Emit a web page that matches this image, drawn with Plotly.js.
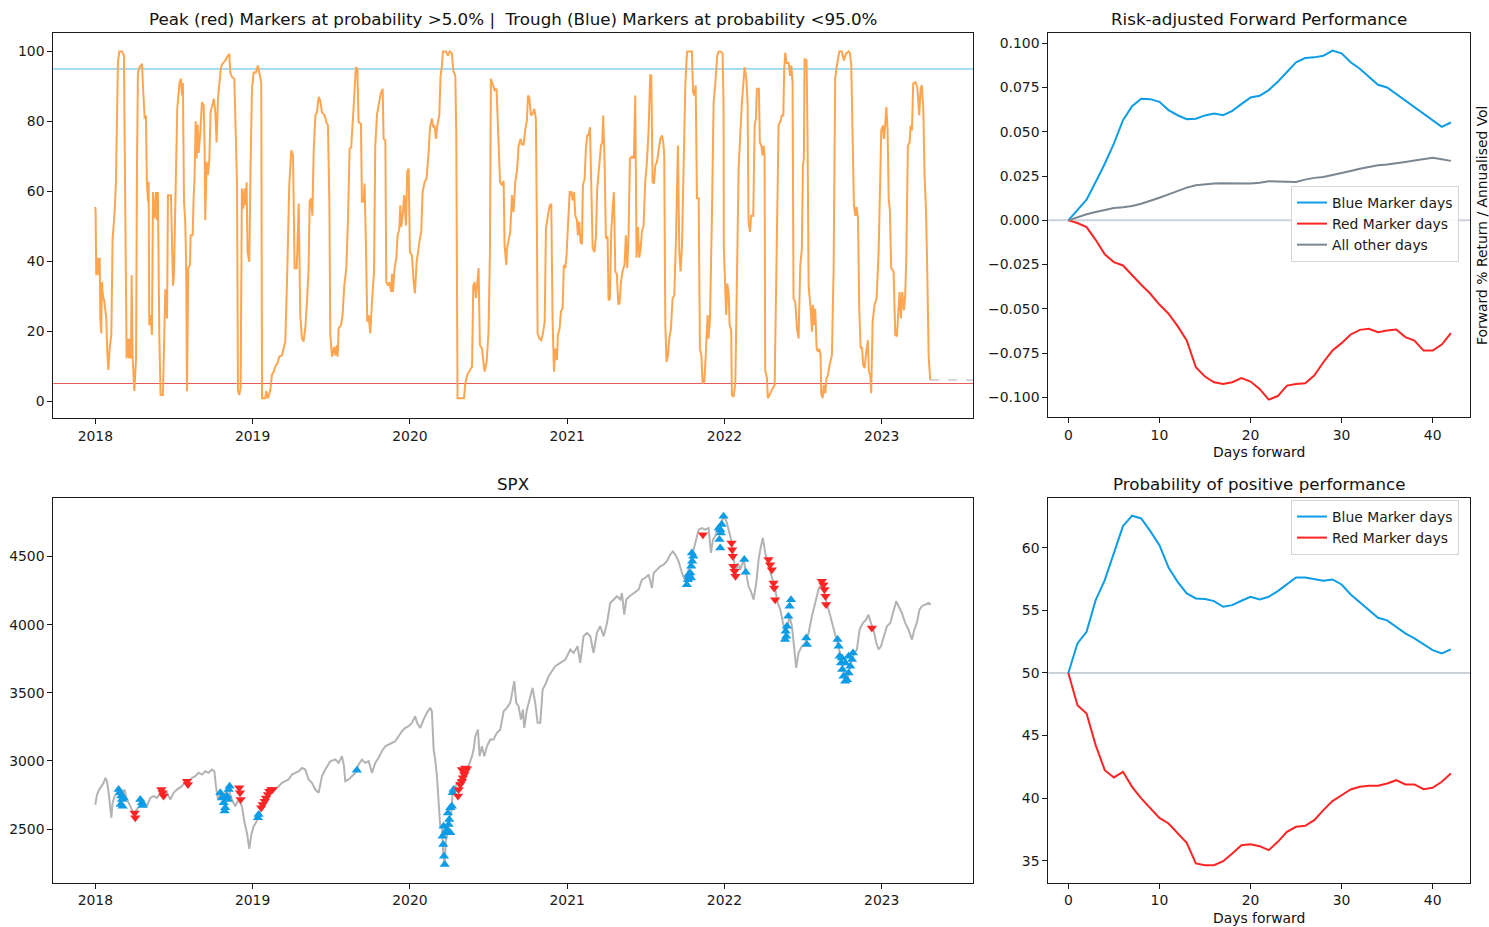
<!DOCTYPE html>
<html>
<head>
<meta charset="utf-8">
<script src="https://cdn.plot.ly/plotly-3.0.1.min.js"></script>
<style>html,body{margin:0;padding:0;background:#fff;}#chart{width:1489px;height:927px;}</style>
</head>
<body>
<div id="chart"></div>
<script>
// ---------- thresholds ----------
const upperThreshold = 95;
const lowerThreshold = 5;

// ---------- probability series (decimal years) ----------
const probX = [
2018.000,2018.002,2018.006,2018.015,2018.021,2018.028,2018.032,2018.038,2018.042,2018.049,
2018.057,2018.064,2018.070,2018.076,2018.083,2018.091,2018.102,2018.110,2018.123,2018.131,
2018.138,2018.144,2018.153,2018.170,2018.182,2018.186,2018.195,2018.199,2018.208,2018.214,
2018.220,2018.227,2018.231,2018.237,2018.248,2018.259,2018.265,2018.271,2018.282,2018.297,
2018.305,2018.314,2018.322,2018.328,2018.335,2018.339,2018.343,2018.352,2018.360,2018.367,
2018.377,2018.386,2018.392,2018.398,2018.407,2018.415,2018.430,2018.439,2018.445,2018.456,
2018.462,2018.481,2018.487,2018.494,2018.500,2018.509,2018.521,2018.536,2018.545,2018.551,
2018.557,2018.564,2018.572,2018.578,2018.583,2018.591,2018.602,2018.606,2018.619,2018.625,
2018.631,2018.638,2018.644,2018.651,2018.657,2018.668,2018.678,2018.689,2018.695,2018.699,
2018.708,2018.716,2018.725,2018.733,2018.746,2018.754,2018.763,2018.771,2018.780,2018.788,
2018.799,2018.809,2018.826,2018.843,2018.852,2018.858,2018.869,2018.884,2018.890,2018.901,
2018.907,2018.915,2018.924,2018.932,2018.941,2018.949,2018.956,2018.962,2018.968,2018.979,
2018.987,2018.996,2019.007,2019.021,2019.034,2019.047,2019.055,2019.060,2019.081,2019.087,
2019.098,2019.113,2019.123,2019.134,2019.144,2019.157,2019.170,2019.187,2019.199,2019.208,
2019.221,2019.233,2019.246,2019.257,2019.267,2019.280,2019.284,2019.293,2019.303,2019.314,
2019.324,2019.335,2019.346,2019.356,2019.363,2019.371,2019.380,2019.388,2019.399,2019.409,
2019.420,2019.430,2019.441,2019.458,2019.469,2019.479,2019.488,2019.494,2019.505,2019.519,
2019.526,2019.536,2019.541,2019.547,2019.562,2019.572,2019.583,2019.596,2019.606,2019.617,
2019.627,2019.636,2019.649,2019.657,2019.666,2019.674,2019.689,2019.695,2019.706,2019.712,
2019.721,2019.729,2019.738,2019.748,2019.759,2019.772,2019.780,2019.791,2019.805,2019.814,
2019.827,2019.833,2019.844,2019.850,2019.861,2019.869,2019.882,2019.886,2019.892,2019.903,
2019.914,2019.922,2019.933,2019.939,2019.945,2019.954,2019.964,2019.975,2019.983,2019.992,
2020.000,2020.013,2020.024,2020.032,2020.043,2020.056,2020.064,2020.072,2020.081,2020.094,
2020.106,2020.119,2020.128,2020.140,2020.149,2020.157,2020.166,2020.174,2020.187,2020.195,
2020.204,2020.210,2020.229,2020.242,2020.253,2020.267,2020.276,2020.289,2020.295,2020.303,
2020.344,2020.352,2020.365,2020.382,2020.395,2020.403,2020.412,2020.420,2020.428,2020.437,
2020.445,2020.458,2020.475,2020.488,2020.500,2020.509,2020.515,2020.526,2020.539,2020.551,
2020.560,2020.573,2020.585,2020.596,2020.602,2020.613,2020.617,2020.638,2020.649,2020.659,
2020.670,2020.681,2020.691,2020.704,2020.712,2020.723,2020.734,2020.744,2020.751,2020.759,
2020.770,2020.780,2020.791,2020.801,2020.808,2020.812,2020.823,2020.835,2020.844,2020.857,
2020.865,2020.878,2020.888,2020.899,2020.907,2020.916,2020.924,2020.935,2020.941,2020.952,
2020.960,2020.971,2020.979,2020.988,2020.996,2021.005,2021.016,2021.026,2021.035,2021.043,
2021.052,2021.062,2021.068,2021.077,2021.085,2021.094,2021.100,2021.111,2021.119,2021.128,
2021.136,2021.145,2021.153,2021.162,2021.174,2021.183,2021.191,2021.204,2021.215,2021.223,
2021.229,2021.238,2021.246,2021.257,2021.263,2021.272,2021.280,2021.289,2021.297,2021.306,
2021.316,2021.325,2021.333,2021.342,2021.352,2021.365,2021.373,2021.382,2021.390,2021.399,
2021.412,2021.424,2021.433,2021.441,2021.450,2021.458,2021.467,2021.475,2021.486,2021.496,
2021.507,2021.518,2021.528,2021.535,2021.543,2021.552,2021.560,2021.571,2021.581,2021.592,
2021.602,2021.611,2021.617,2021.624,2021.632,2021.641,2021.649,2021.660,2021.670,2021.681,
2021.692,2021.698,2021.704,2021.713,2021.721,2021.730,2021.742,2021.751,2021.757,2021.763,
2021.793,2021.800,2021.808,2021.817,2021.825,2021.836,2021.844,2021.853,2021.861,2021.872,
2021.882,2021.893,2021.899,2021.908,2021.920,2021.931,2021.941,2021.954,2021.963,2021.973,
2021.988,2021.994,2021.996,2022.005,2022.011,2022.018,2022.026,2022.033,2022.043,2022.047,
2022.058,2022.069,2022.079,2022.090,2022.100,2022.111,2022.128,2022.139,2022.147,2022.153,
2022.162,2022.170,2022.183,2022.192,2022.200,2022.206,2022.219,2022.225,2022.234,2022.242,
2022.249,2022.255,2022.259,2022.270,2022.276,2022.289,2022.306,2022.319,2022.327,2022.336,
2022.344,2022.357,2022.365,2022.374,2022.380,2022.387,2022.395,2022.408,2022.418,2022.425,
2022.433,2022.439,2022.450,2022.461,2022.471,2022.482,2022.492,2022.499,2022.505,2022.509,
2022.522,2022.528,2022.535,2022.548,2022.556,2022.562,2022.571,2022.577,2022.586,2022.594,
2022.603,2022.611,2022.615,2022.624,2022.632,2022.641,2022.649,2022.658,2022.668,2022.683,
2022.694,2022.704,2022.713,2022.730,2022.747,2022.759,2022.772,2022.789,2022.798,2022.806,
2022.815,2022.823,2022.832,2022.840,2022.849,2022.857,2022.866,2022.874,2022.882,2022.891,
2022.899,2022.912,2022.918,2022.927,2022.933,2022.942,2022.954,2022.967,2022.980,2022.988,
2022.997,2023.007,2023.014,2023.022,2023.029,2023.037,2023.044,2023.052,2023.060,2023.075,
2023.086,2023.096,2023.105,2023.113,2023.122,2023.130,2023.141,2023.149,2023.156,2023.166,
2023.177,2023.183,2023.192,2023.200,2023.213,2023.226,2023.238,2023.247,2023.255,2023.264,
2023.272,2023.281,2023.289,2023.298,2023.308
];
const probY = [
55.5,54,36,41,36,41,23.6,19.3,34,30,
28.6,24.8,23.6,14,8.9,15,19,46.5,54,62.4,
85.5,97,100,100,98.8,76,38,12.2,17.9,12.2,
17.9,12.2,36,13,2.9,12,66.5,94,95.5,96.5,
88.4,80.8,81.7,62.7,57,62.7,21.7,24.6,18.9,59.8,
52.2,59.8,51.7,59.8,18.9,1.7,1.7,19,32,23.6,
58.9,58.9,43.6,33,36,59,83.6,91.2,92.2,87.4,
91,57,51.3,38,2.8,38,39,47.4,47.4,58,
63.6,80,69.4,79,71,77,85.5,84.6,73,51.7,
68.4,64.6,68.8,82.6,84.6,86.5,82.6,74,86.5,90.3,
95.5,96.5,97.4,98.8,99.3,94,92.7,92.2,80.8,61.7,
2.8,1.7,3.6,60.8,55,60.8,56,62.6,42.6,39.8,
66.5,89.3,94,94,96,92.2,91,0.8,0.8,2.8,
0.8,3.2,7.5,8.4,9.8,10.8,12.7,13.1,15,17,
38,61.7,71.7,70.3,38,38,42.6,56.5,24.6,17.9,
17,20.8,28.4,38,57,58,53,71,81.7,82.6,
87,86,82.6,81.7,79.8,78.8,57,19,12.7,15.5,
13,16,12.7,20.8,21.7,24.6,33,38,51.3,72.2,
72.6,78.8,87.4,95.5,95,79.8,79.3,57,57,62.2,
43.6,22.7,24.6,19.3,28.4,37,73,82,85.5,87.9,
89.3,75,74.6,34,33,34,31.2,36.4,31.2,38,
41,47.4,49.3,56,49.8,53,58.9,50.2,65.5,66.5,
42.6,41.7,34,30.8,39.8,44.5,46.5,48.4,59.8,62.7,
63.6,71,78.3,80.8,78.3,78.8,75,78.8,81.7,93,
96,100,100,98.8,100,99.5,94.5,93,75.8,0.8,
0.8,5,7.5,8.9,9.8,33,34,29.5,34,38,
16,15,8.4,11.2,19.8,42.6,92.2,90.8,88.9,89.3,
75.8,62.7,61.7,63,44.5,38.9,43.6,48.4,58.9,54,
62.7,66,73,75,73.4,73.4,77.8,80.2,87.4,86.9,
81.7,82.1,83.6,80.8,47.4,19.3,17.9,17.4,18.9,22.7,
49.3,53,55.9,56.4,23.6,8.4,15,11.7,18.9,20.8,
25.5,26.5,38.9,38,41.7,50.2,59.8,59.8,57.4,59.8,
53,51.7,47.4,51.3,45.4,44.9,61.7,63.6,72.2,76,
76,78.3,64.6,43.6,42.6,47.4,60.8,66.5,73.1,74,
81.7,68.4,46.5,47,28.8,29.3,48.4,55,59.8,37.1,
36.2,27.6,28,34,37.1,39,47.4,38,47.4,69.4,
69.9,69.4,87.4,41,49.8,41,43.6,48.4,50.2,62.7,
68.4,77.8,93.4,93,62.7,62.2,67.4,68.4,72.2,75,
76,74,70.3,21.7,11.2,13,17.9,20.8,29.3,30.2,
46.5,58.9,73.1,42.6,37.1,44.5,76,90.3,96,100,
100,88.4,87.4,90.3,58,58,15,13.1,5,5.5,
14.1,24.6,17.9,23.6,52.2,85.5,90.3,98.8,100,100,
99.5,85.5,43.6,33,24.6,33.6,31.2,21.7,20.2,1.7,
1.2,5,38,66.5,75.8,85.5,95.5,92.2,85.5,51.3,
48.4,53,53,78.8,80.8,89.3,89.3,74,73.1,70.3,
73.1,70.3,8.9,6.5,0.8,2.2,3.6,4.6,28,58.9,
78.8,80.2,81.7,81.7,95,99.7,96.7,96.7,93,96,
91.2,29.3,28.4,20.8,17.9,38.9,43.6,67.6,69.4,97.9,
97.4,76.7,33,26.4,19.8,27.5,21.7,26.4,15,14.1,
15,13.1,2.2,0.8,4.6,2.2,6.5,7.5,10.3,13.1,
38,92.2,95.5,100,100,97.4,99.3,100,99.5,96,
72.2,56,53,55.5,52.2,26.4,15,15.5,10.3,9.4,
13.1,17.4,8.4,7.5,2.2,22.7,27.5,29.3,42.6,61.7,
77.4,78.8,75,79.3,84.1,77.8,58,54.3,38,37.1,
18.9,18.5,26.4,31.2,23.6,31.2,26,30.2,41,73.1,
74,78.8,77.4,90.8,91.2,89.8,81.7,89.3,90.3,83.6,
64.6,55,38,13.1,6
];
const probTailX = [2023.308, 2023.582];
const probTailY = [6, 6];

// ---------- SPX series ----------
const spxX = [
2018.000,2018.011,2018.025,2018.042,2018.053,2018.064,2018.074,2018.085,2018.095,2018.102,
2018.110,2018.123,2018.138,2018.148,2018.170,2018.186,2018.201,2018.223,2018.244,2018.265,
2018.286,2018.307,2018.328,2018.350,2018.371,2018.392,2018.413,2018.434,2018.456,2018.477,
2018.498,2018.519,2018.551,2018.572,2018.593,2018.615,2018.636,2018.657,2018.678,2018.699,
2018.720,2018.742,2018.757,2018.767,2018.780,2018.795,2018.809,2018.826,2018.848,2018.869,
2018.890,2018.911,2018.932,2018.949,2018.964,2018.979,2018.992,2019.007,2019.021,2019.038,
2019.060,2019.081,2019.102,2019.123,2019.144,2019.166,2019.187,2019.208,2019.229,2019.250,
2019.271,2019.293,2019.314,2019.335,2019.356,2019.377,2019.399,2019.420,2019.441,2019.462,
2019.494,2019.526,2019.547,2019.568,2019.581,2019.589,2019.611,2019.632,2019.653,2019.674,
2019.695,2019.716,2019.738,2019.759,2019.780,2019.801,2019.822,2019.844,2019.865,2019.886,
2019.907,2019.928,2019.950,2019.971,2019.992,2020.013,2020.034,2020.045,2020.066,2020.087,
2020.108,2020.130,2020.140,2020.151,2020.161,2020.172,2020.183,2020.193,2020.204,2020.212,
2020.221,2020.229,2020.242,2020.250,2020.263,2020.272,2020.284,2020.299,2020.314,2020.331,
2020.352,2020.373,2020.395,2020.405,2020.416,2020.433,2020.443,2020.458,2020.473,2020.490,
2020.511,2020.532,2020.553,2020.575,2020.596,2020.617,2020.638,2020.664,2020.676,2020.691,
2020.706,2020.719,2020.727,2020.744,2020.761,2020.780,2020.797,2020.812,2020.829,2020.844,
2020.861,2020.882,2020.903,2020.924,2020.956,2020.988,2021.020,2021.041,2021.066,2021.083,
2021.104,2021.126,2021.147,2021.168,2021.189,2021.210,2021.232,2021.253,2021.274,2021.295,
2021.316,2021.338,2021.348,2021.363,2021.376,2021.397,2021.422,2021.454,2021.475,2021.496,
2021.518,2021.539,2021.550,2021.571,2021.592,2021.613,2021.634,2021.655,2021.672,2021.687,
2021.708,2021.730,2021.751,2021.772,2021.793,2021.814,2021.836,2021.857,2021.878,2021.899,
2021.914,2021.927,2021.941,2021.963,2021.984,2021.999,2022.016,2022.033,2022.047,2022.058,
2022.071,2022.084,2022.100,2022.122,2022.139,2022.153,2022.168,2022.185,2022.202,2022.217,
2022.232,2022.244,2022.259,2022.281,2022.302,2022.323,2022.338,2022.355,2022.372,2022.387,
2022.397,2022.414,2022.429,2022.444,2022.456,2022.471,2022.492,2022.514,2022.535,2022.556,
2022.577,2022.598,2022.613,2022.634,2022.651,2022.673,2022.694,2022.711,2022.726,2022.740,
2022.757,2022.779,2022.796,2022.810,2022.825,2022.842,2022.859,2022.880,2022.901,2022.916,
2022.931,2022.948,2022.965,2022.980,2022.995,2023.012,2023.033,2023.054,2023.075,2023.092,
2023.107,2023.128,2023.149,2023.170,2023.192,2023.207,2023.223,2023.240,2023.255,2023.277,
2023.298,2023.312
];
const spxY = [
2680,2754,2790,2815,2839,2876,2852,2766,2668,2583,
2693,2742,2766,2790,2742,2790,2717,2668,2607,2644,
2680,2668,2668,2729,2742,2729,2766,2790,2766,2717,
2766,2790,2815,2852,2852,2876,2888,2913,2900,2925,
2913,2937,2925,2815,2717,2766,2729,2766,2790,2717,
2668,2717,2668,2546,2473,2355,2460,2521,2546,2595,
2656,2717,2766,2790,2790,2815,2839,2852,2864,2900,
2913,2925,2949,2937,2864,2839,2790,2766,2888,2937,
2998,3011,2986,3035,2962,2852,2864,2888,2913,2974,
3011,2986,2998,2913,2986,3023,3072,3108,3121,3133,
3145,3182,3219,3243,3255,3280,3328,3280,3243,3304,
3353,3390,3365,3084,3011,2888,2644,2521,2521,2326,
2240,2424,2473,2570,2619,2766,2790,2839,2864,2888,
2949,2962,3035,3084,3182,3231,3035,3108,3035,3108,
3157,3157,3206,3231,3365,3390,3426,3585,3426,3402,
3304,3377,3243,3377,3451,3536,3426,3280,3280,3524,
3561,3622,3659,3695,3720,3744,3818,3793,3842,3720,
3915,3940,3915,3793,3940,3989,3915,4013,4160,4185,
4209,4185,4233,4074,4185,4209,4233,4258,4331,4343,
4368,4270,4380,4405,4429,4441,4466,4515,4539,4515,
4466,4380,4319,4405,4503,4600,4698,4710,4698,4710,
4527,4625,4649,4723,4771,4796,4747,4674,4600,4503,
4356,4454,4405,4478,4380,4282,4246,4185,4307,4478,
4576,4637,4527,4429,4356,4258,4160,4111,4013,3940,
3964,4062,3989,3793,3683,3793,3842,3866,3940,4062,
4160,4258,4294,4233,4160,4062,3964,3891,3842,3768,
3671,3597,3671,3744,3793,3818,3964,4013,4038,4074,
4013,3964,3866,3818,3842,3915,3989,4013,4111,4172,
4136,4087,4013,3964,3891,3964,4013,4111,4136,4148,
4160,4148
];

// ---------- marker days ----------
const blueMarkX = [
2018.148,2018.157,2018.161,2018.165,2018.170,2018.174,2018.180,2018.286,2018.297,2018.301,
2018.795,2018.805,2018.816,2018.822,2018.826,2018.837,2018.843,2018.848,2018.854,2019.034,
2019.038,2019.663,2020.208,2020.212,2020.214,2020.217,2020.221,2020.225,2020.236,2020.242,
2020.246,2020.250,2020.257,2020.257,2020.267,2020.272,2020.278,2021.761,2021.768,2021.772,
2021.776,2021.783,2021.787,2021.789,2021.793,2021.795,2021.802,2021.964,2021.968,2021.973,
2021.973,2021.977,2021.983,2021.994,2022.126,2022.135,2022.385,2022.389,2022.393,2022.397,
2022.406,2022.414,2022.423,2022.520,2022.524,2022.719,2022.726,2022.732,2022.741,2022.747,
2022.749,2022.757,2022.768,2022.768,2022.779,2022.789,2022.789,2022.800,2022.811,2022.817
];
const blueMarkY = [
2790,2766,2680,2742,2717,2668,2729,2717,2693,2673,
2766,2729,2693,2632,2656,2742,2717,2790,2815,2583,
2607,2932,2448,2387,2521,2301,2240,2473,2497,2619,
2534,2570,2473,2656,2668,2766,2790,4294,4331,4368,
4355,4380,4343,4429,4527,4466,4502,4710,4625,4563,
4698,4673,4735,4796,4478,4385,3891,3952,3915,3989,
4062,4135,4184,3903,3854,3891,3842,3769,3720,3756,
3671,3622,3585,3720,3597,3646,3769,3695,3744,3793
];
const redMarkX = [
2018.250,2018.254,2018.420,2018.428,2018.434,2018.583,2018.589,2018.915,2018.920,2018.924,
2019.055,2019.064,2019.077,2019.085,2019.098,2019.106,2019.119,2019.127,2020.306,2020.310,
2020.320,2020.331,2020.331,2020.337,2020.346,2020.352,2020.352,2020.363,2021.863,2022.045,
2022.049,2022.053,2022.057,2022.064,2022.070,2022.280,2022.290,2022.301,2022.312,2022.316,
2022.322,2022.619,2022.629,2022.636,2022.642,2022.646,2022.937
];
const redMarkY = [
2619,2583,2790,2766,2742,2852,2827,2803,2766,2717,
2656,2680,2705,2729,2754,2778,2790,2790,2742,2790,
2827,2852,2937,2876,2900,2925,2949,2942,4661,4600,
4551,4502,4429,4392,4355,4478,4441,4404,4307,4270,
4184,4319,4294,4258,4209,4148,3976
];

// ---------- forward performance ----------
const daysForward = [0,1,2,3,4,5,6,7,8,9,10,11,12,13,14,15,16,17,18,19,20,21,22,23,24,25,26,27,28,29,30,31,32,33,34,35,36,37,38,39,40,41,42];
const riskAdjBlue = [0,0.0057,0.0117,0.0217,0.032,0.0434,0.0566,0.0645,0.0687,0.0685,0.067,0.0623,0.0594,0.0572,0.0574,0.0593,0.0604,0.0594,0.0619,0.0657,0.0694,0.0704,0.0736,0.0783,0.084,0.0893,0.0917,0.0921,0.093,0.0959,0.0944,0.0893,0.0857,0.0811,0.0766,0.0751,0.0713,0.0676,0.0642,0.0604,0.0562,0.0528,0.0553];
const riskAdjRed = [0,-0.0015,-0.0038,-0.011,-0.0192,-0.0236,-0.0255,-0.0311,-0.0364,-0.0415,-0.0476,-0.0528,-0.0598,-0.0679,-0.083,-0.0883,-0.0915,-0.0925,-0.0915,-0.0891,-0.0911,-0.0953,-0.1013,-0.0993,-0.0934,-0.0925,-0.0921,-0.0877,-0.0802,-0.0736,-0.0694,-0.0645,-0.0619,-0.0613,-0.0632,-0.0623,-0.0617,-0.066,-0.0679,-0.0736,-0.0736,-0.0702,-0.0638];
const riskAdjOther = [0,0.0019,0.0034,0.0047,0.006,0.007,0.0074,0.0081,0.0094,0.0109,0.0128,0.0147,0.0166,0.0185,0.0198,0.0204,0.0208,0.0209,0.0209,0.0208,0.0208,0.0213,0.0221,0.0219,0.0217,0.0217,0.023,0.024,0.0245,0.0255,0.0268,0.0279,0.0291,0.0302,0.0311,0.0315,0.0321,0.033,0.0338,0.0347,0.0353,0.0345,0.0336];
const probPosBlue = [50,52.36,53.29,55.82,57.42,59.55,61.73,62.56,62.34,61.33,60.21,58.43,57.28,56.35,55.95,55.9,55.74,55.29,55.42,55.77,56.09,55.87,56.09,56.54,57.07,57.63,57.63,57.47,57.36,57.47,57.07,56.27,55.63,54.97,54.41,54.2,53.69,53.16,52.76,52.31,51.83,51.56,51.88];
const probPosRed = [50,47.42,46.77,44.24,42.24,41.66,42.11,40.91,39.98,39.18,38.43,37.98,37.18,36.44,34.79,34.65,34.65,34.97,35.59,36.25,36.33,36.17,35.85,36.52,37.32,37.72,37.8,38.25,39.05,39.77,40.24,40.7,40.91,40.99,40.99,41.18,41.44,41.1,41.1,40.72,40.83,41.31,41.98];

// ---------- tick labels ----------
const yearTicks = [2018,2019,2020,2021,2022,2023];
const probTicks = [0,20,40,60,80,100];
const spxTicks = [2500,3000,3500,4000,4500];
const riskTicks = [-0.1,-0.075,-0.05,-0.025,0,0.025,0.05,0.075,0.1];
const posTicks = [35,40,45,50,55,60];
const dayTicks = [0,10,20,30,40];

// ---------- styling ----------
const FONT = 'DejaVu Sans, Liberation Sans, sans-serif';
const FS = 13.9;
const FT = 16.7;
const C_BLUE = '#0d9ce6';
const C_RED = '#ff2424';
const C_OTHER = '#7b8693';
const C_ORANGE = '#ffa54f';
const C_SPX = '#b3b3b3';
const C_REF = 'rgba(176,188,200,0.65)';

function ax(extra) {
  return Object.assign({
    showline: true, mirror: true, linecolor: '#1a1a1a', linewidth: 1,
    ticks: 'outside', ticklen: 5, tickwidth: 1, tickcolor: '#1a1a1a',
    showgrid: false, zeroline: false, fixedrange: true,
    tickfont: {family: FONT, size: FS, color: '#1a1a1a'}
  }, extra);
}

const L = {x0: 53.3/1489, x1: 973.3/1489};
const R = {x0: 1048.3/1489, x1: 1470/1489};
const TOP = {y0: 1-418.3/927, y1: 1-33.3/927};
const BOT = {y0: 1-882.5/927, y1: 1-498.3/927};

const traces = [
  {x: probX, y: probY, xaxis: 'x', yaxis: 'y', type: 'scatter', mode: 'lines',
   line: {color: C_ORANGE, width: 2}, showlegend: false, hoverinfo: 'skip'},
  {x: probTailX, y: probTailY, xaxis: 'x', yaxis: 'y', type: 'scatter', mode: 'lines',
   line: {color: '#9a9a9a', width: 0.8, dash: 'dash'}, showlegend: false, hoverinfo: 'skip'},

  {x: daysForward, y: riskAdjBlue, xaxis: 'x2', yaxis: 'y2', type: 'scatter', mode: 'lines',
   name: 'Blue Marker days', line: {color: C_BLUE, width: 2}, legend: 'legend'},
  {x: daysForward, y: riskAdjRed, xaxis: 'x2', yaxis: 'y2', type: 'scatter', mode: 'lines',
   name: 'Red Marker days', line: {color: C_RED, width: 2}, legend: 'legend'},
  {x: daysForward, y: riskAdjOther, xaxis: 'x2', yaxis: 'y2', type: 'scatter', mode: 'lines',
   name: 'All other days', line: {color: C_OTHER, width: 2}, legend: 'legend'},

  {x: spxX, y: spxY, xaxis: 'x3', yaxis: 'y3', type: 'scatter', mode: 'lines',
   line: {color: C_SPX, width: 2}, showlegend: false, hoverinfo: 'skip'},
  {x: blueMarkX, y: blueMarkY, xaxis: 'x3', yaxis: 'y3', type: 'scatter', mode: 'markers',
   marker: {symbol: 'triangle-up', size: 9, color: C_BLUE, line: {width: 0}}, showlegend: false},
  {x: redMarkX, y: redMarkY, xaxis: 'x3', yaxis: 'y3', type: 'scatter', mode: 'markers',
   marker: {symbol: 'triangle-down', size: 9, color: C_RED, line: {width: 0}}, showlegend: false},

  {x: daysForward, y: probPosBlue, xaxis: 'x4', yaxis: 'y4', type: 'scatter', mode: 'lines',
   name: 'Blue Marker days', line: {color: C_BLUE, width: 2}, legend: 'legend2'},
  {x: daysForward, y: probPosRed, xaxis: 'x4', yaxis: 'y4', type: 'scatter', mode: 'lines',
   name: 'Red Marker days', line: {color: C_RED, width: 2}, legend: 'legend2'}
];

const legendStyle = {
  xanchor: 'left', yanchor: 'top',
  bgcolor: 'rgba(255,255,255,0.85)', bordercolor: '#d4d4d4', borderwidth: 1,
  font: {family: FONT, size: FS, color: '#1a1a1a'}, itemwidth: 30, tracegroupgap: 0
};

const titleText = 'Peak (red) Markers at probability >' + lowerThreshold.toFixed(1) +
  '% |  Trough (Blue) Markers at probability <' + upperThreshold.toFixed(1) + '%';

function ann(text, px, py, size, extra) {
  return Object.assign({text: text, xref: 'paper', yref: 'paper', x: px/1489, y: 1 - py/927,
    xanchor: 'center', yanchor: 'middle', showarrow: false,
    font: {family: FONT, size: size, color: '#111'}}, extra || {});
}

const layout = {
  width: 1489, height: 927,
  margin: {l: 0, r: 0, t: 0, b: 0},
  paper_bgcolor: '#ffffff', plot_bgcolor: '#ffffff',
  font: {family: FONT, size: FS, color: '#1a1a1a'},
  showlegend: true,
  legend: Object.assign({x: 1291/1489, y: 1 - 186/927}, legendStyle),
  legend2: Object.assign({x: 1291/1489, y: 1 - 500/927}, legendStyle),
  xaxis: ax({domain: [L.x0, L.x1], anchor: 'y', range: [2017.733, 2023.582], tickvals: yearTicks, ticktext: yearTicks.map(String)}),
  yaxis: ax({domain: [TOP.y0, TOP.y1], anchor: 'x', range: [-4.95, 105.2], tickvals: probTicks}),
  xaxis2: ax({domain: [R.x0, R.x1], anchor: 'y2', range: [-2.2, 44.1], tickvals: dayTicks}),
  yaxis2: ax({domain: [TOP.y0 + 0.0011, TOP.y1], anchor: 'x2', range: [-0.1113, 0.1057], tickvals: riskTicks, tickformat: '.3f'}),
  xaxis3: ax({domain: [L.x0, L.x1], anchor: 'y3', range: [2017.733, 2023.582], tickvals: yearTicks, ticktext: yearTicks.map(String)}),
  yaxis3: ax({domain: [BOT.y0, BOT.y1], anchor: 'x3', range: [2108, 4928], tickvals: spxTicks}),
  xaxis4: ax({domain: [R.x0, R.x1], anchor: 'y4', range: [-2.2, 44.1], tickvals: dayTicks}),
  yaxis4: ax({domain: [BOT.y0, BOT.y1], anchor: 'x4', range: [33.27, 63.95], tickvals: posTicks}),
  shapes: [
    {type: 'line', xref: 'x domain', yref: 'y', x0: 0, x1: 1, y0: upperThreshold, y1: upperThreshold,
     line: {color: '#4cbcf2', width: 1}, layer: 'below'},
    {type: 'line', xref: 'x domain', yref: 'y', x0: 0, x1: 1, y0: lowerThreshold, y1: lowerThreshold,
     line: {color: '#e0484a', width: 0.9}, layer: 'below'},
    {type: 'line', xref: 'x2 domain', yref: 'y2', x0: 0, x1: 1, y0: 0, y1: 0,
     line: {color: C_REF, width: 2}, layer: 'below'},
    {type: 'line', xref: 'x4 domain', yref: 'y4', x0: 0, x1: 1, y0: 50, y1: 50,
     line: {color: C_REF, width: 2}, layer: 'below'}
  ],
  annotations: [
    ann(titleText, 513.3, 18.5, FT),
    ann('SPX', 513.3, 483.5, FT),
    ann('Risk-adjusted Forward Performance', 1259.2, 18.5, FT),
    ann('Probability of positive performance', 1259.2, 483.5, FT),
    ann('Days forward', 1259.2, 452.5, FS),
    ann('Days forward', 1259.2, 917.5, FS),
    ann('Forward % Return / Annualised Vol', 1482, 226, FS, {textangle: -90})
  ]
};

Plotly.newPlot('chart', traces, layout, {staticPlot: true, displayModeBar: false});
</script>
</body>
</html>
